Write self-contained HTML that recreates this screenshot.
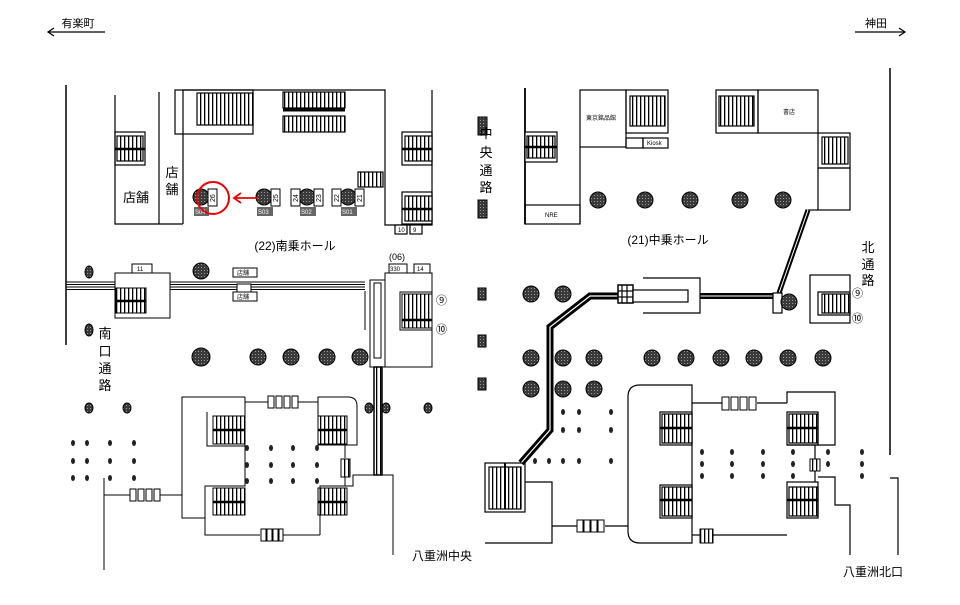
<!DOCTYPE html>
<html><head><meta charset="utf-8"><style>
html,body{margin:0;padding:0;background:#fff}
svg{display:block}
text{font-family:"Liberation Sans","Noto Sans CJK JP",sans-serif;fill:#000}
</style></head><body>
<svg width="960" height="605" viewBox="0 0 960 605" xmlns="http://www.w3.org/2000/svg">
<defs>
<pattern id="st" width="4" height="4" patternUnits="userSpaceOnUse"><rect width="4" height="4" fill="#fff"/><rect x="0" width="1.3" height="4" fill="#000"/></pattern>
<pattern id="dk" width="3" height="3" patternUnits="userSpaceOnUse"><rect width="3" height="3" fill="#3a3a3a"/><rect width="1" height="1" fill="#999"/></pattern>
</defs>
<g stroke="#000" stroke-width="1.2" fill="none">
<line x1="48" y1="32" x2="105" y2="32"/><polyline points="54,28 48,32 54,36"/>
<line x1="855" y1="32" x2="905" y2="32"/><polyline points="899,28 905,32 899,36"/>
<line x1="66" y1="85" x2="66" y2="345" stroke-width="1.5"/>
<line x1="890" y1="68" x2="890" y2="455" stroke-width="1.5"/>
<polyline points="115,95 115,224 183,224"/>
<line x1="159" y1="92" x2="159" y2="224"/>
<polyline points="183,224 183,90 385,90 385,225 432,225 432,90"/>
<rect x="175" y="90" width="78" height="44"/>
<rect x="197" y="93" width="56" height="32" fill="url(#st)"/>
<rect x="283" y="92" width="62" height="16" fill="url(#st)"/>
<rect x="283" y="116" width="62" height="16" fill="url(#st)"/>
<line x1="283" y1="110" x2="345" y2="110" stroke-width="3"/>
<rect x="358" y="172" width="25" height="15" fill="url(#st)"/>
<rect x="115" y="132" width="30" height="33"/><rect x="117" y="136" width="26" height="25" fill="url(#st)"/><line x1="115" y1="149" x2="145" y2="149" stroke-width="2.5"/>
<rect x="402" y="132" width="30" height="33"/><rect x="405" y="136" width="27" height="25" fill="url(#st)"/><line x1="402" y1="149" x2="432" y2="149" stroke-width="2.5"/>
<rect x="402" y="192" width="30" height="32"/><rect x="405" y="196" width="27" height="25" fill="url(#st)"/><line x1="402" y1="209" x2="432" y2="209" stroke-width="2.5"/>
<rect x="395" y="225" width="12" height="9" fill="#fff"/><rect x="410" y="225" width="12" height="9" fill="#fff"/>
</g>
<g fill="url(#dk)" stroke="#000">
<circle cx="201" cy="197" r="8"/><circle cx="264" cy="197" r="8"/><circle cx="307" cy="197" r="8"/><circle cx="348" cy="197" r="8"/>
</g>
<g fill="#fff" stroke="#000" stroke-width="1">
<rect x="208" y="189" width="9" height="17"/><rect x="271" y="189" width="9" height="17"/>
<rect x="291" y="189" width="9" height="17"/><rect x="314" y="189" width="9" height="17"/>
<rect x="332" y="189" width="9" height="17"/><rect x="355" y="189" width="9" height="17"/>
</g>
<g font-size="7">
<text transform="translate(215,202) rotate(-90)">26</text><text transform="translate(278,202) rotate(-90)">25</text>
<text transform="translate(298,202) rotate(-90)">24</text><text transform="translate(321,202) rotate(-90)">23</text>
<text transform="translate(339,202) rotate(-90)">22</text><text transform="translate(362,202) rotate(-90)">21</text>
</g>
<g fill="#666"><rect x="194" y="207" width="15" height="9"/><rect x="257" y="207" width="16" height="9"/><rect x="300" y="207" width="16" height="9"/><rect x="341" y="207" width="16" height="9"/></g>
<g font-size="6"><text x="195" y="214" style="fill:#fff">S04</text><text x="258" y="214" style="fill:#fff">S03</text><text x="301" y="214" style="fill:#fff">S02</text><text x="342" y="214" style="fill:#fff">S01</text></g>
<circle cx="213" cy="198" r="16" fill="none" stroke="#e00" stroke-width="2"/>
<line x1="258" y1="198" x2="236" y2="198" stroke="#e00" stroke-width="1.8"/><polyline points="241,193 234,198 241,203" fill="none" stroke="#e00" stroke-width="1.8"/>
<g font-size="6"><text x="398" y="232">10</text><text x="413" y="232">9</text></g>
<text x="136" y="202" font-size="13" text-anchor="middle">店舗</text>
<text x="172" y="177" font-size="13" text-anchor="middle">店</text><text x="172" y="194" font-size="13" text-anchor="middle">舗</text>
<text x="295" y="250" font-size="12" text-anchor="middle">(22)南乗ホール</text>

<g stroke="#000" fill="none">
<line x1="66" y1="282" x2="365" y2="282"/><line x1="66" y1="284.5" x2="365" y2="284.5"/><line x1="66" y1="287" x2="365" y2="287"/><line x1="66" y1="289.5" x2="365" y2="289.5"/>
<rect x="115" y="273" width="55" height="45" fill="#fff"/>
<rect x="116" y="288" width="30" height="25" fill="url(#st)"/><line x1="116" y1="301" x2="146" y2="301" stroke-width="2.5"/>
<rect x="132" y="264" width="20" height="9" fill="#fff"/>
<rect x="233" y="268" width="24" height="9" fill="#fff"/><rect x="233" y="292" width="24" height="9" fill="#fff"/><rect x="237" y="284" width="14" height="8" fill="#fff"/>
<rect x="370" y="280" width="15" height="87" fill="#fff"/><rect x="374" y="283" width="7" height="75"/>
<line x1="365" y1="291" x2="365" y2="330"/>
<rect x="385" y="273" width="47" height="94" fill="#fff"/>
<polyline points="432,292 400,292 400,330 432,330"/>
<rect x="402" y="294" width="30" height="34" fill="url(#st)"/><line x1="402" y1="320" x2="432" y2="320" stroke-width="2.5"/>
<rect x="389" y="264" width="18" height="9" fill="#fff"/><rect x="414" y="264" width="16" height="9" fill="#fff"/>
<rect x="374" y="367" width="8" height="108" fill="url(#st)" stroke-width="1.5"/>
<polyline points="245,397 182,397 182,518 205,518"/>
<polyline points="245,397 245,402 268,402"/><line x1="297" y1="402" x2="318" y2="402"/>
<path d="M318,397 H348 Q357,397 357,406 V445 H318 Z" fill="#fff"/>
<polyline points="245,402 245,446 207,446 207,412"/>
<rect x="213" y="416" width="32" height="28" fill="url(#st)"/><line x1="213" y1="430" x2="245" y2="430" stroke-width="2.5"/>
<rect x="318" y="416" width="29" height="28" fill="url(#st)"/><line x1="318" y1="430" x2="347" y2="430" stroke-width="2.5"/>
<polyline points="245,446 245,486 205,486 205,535 260,535"/><line x1="282" y1="535" x2="320" y2="535"/>
<rect x="213" y="488" width="32" height="27" fill="url(#st)"/><line x1="213" y1="502" x2="245" y2="502" stroke-width="2.5"/>
<rect x="318" y="488" width="29" height="27" fill="url(#st)"/><line x1="318" y1="502" x2="347" y2="502" stroke-width="2.5"/>
<polyline points="320,535 320,486 345,486 345,477"/><line x1="345" y1="445" x2="345" y2="458"/>
<polyline points="345,486 353,486 353,475 393,475 393,555"/>
<line x1="104" y1="478" x2="104" y2="570"/><line x1="104" y1="495" x2="130" y2="495"/><line x1="160" y1="495" x2="182" y2="495"/>
</g>
<g fill="#fff" stroke="#000" stroke-width="1">
<rect x="130" y="489" width="6" height="12"/><rect x="138" y="489" width="6" height="12"/><rect x="146" y="489" width="6" height="12"/><rect x="154" y="489" width="6" height="12"/>
<rect x="268" y="396" width="6" height="12"/><rect x="276" y="396" width="6" height="12"/><rect x="284" y="396" width="6" height="12"/><rect x="292" y="396" width="6" height="12"/>
<rect x="261" y="529" width="5" height="12"/><rect x="267" y="529" width="5" height="12"/><rect x="273" y="529" width="5" height="12"/><rect x="279" y="529" width="4" height="12"/>
<rect x="341" y="459" width="9" height="18" fill="url(#st)"/>
</g>
<g font-size="6"><text x="137" y="271">11</text><text x="237" y="275">店舗</text><text x="237" y="299">店舗</text><text x="390" y="271">330</text><text x="417" y="271">14</text></g>
<text x="397" y="260" font-size="9" text-anchor="middle">(06)</text>
<text x="436" y="304" font-size="11">⑨</text><text x="436" y="333" font-size="11">⑩</text>
<g font-size="13" text-anchor="middle"><text x="105" y="338">南</text><text x="105" y="356">口</text><text x="105" y="373">通</text><text x="105" y="390">路</text></g>
<text x="442" y="560" font-size="12" text-anchor="middle">八重洲中央</text>
<g fill="url(#dk)" stroke="#000">
<circle cx="201" cy="271" r="8"/><circle cx="201" cy="357" r="9"/><circle cx="258" cy="357" r="8"/><circle cx="291" cy="357" r="8"/><circle cx="327" cy="357" r="8"/><circle cx="360" cy="357" r="8"/>
<ellipse cx="89" cy="272" rx="4" ry="6"/><ellipse cx="89" cy="330" rx="4" ry="6"/><ellipse cx="89" cy="408" rx="4" ry="5"/><ellipse cx="127" cy="408" rx="4" ry="5"/>
<ellipse cx="369" cy="408" rx="4" ry="5"/><ellipse cx="386" cy="408" rx="4" ry="5"/><ellipse cx="428" cy="408" rx="4" ry="5"/>
</g>
<g fill="#222">
<ellipse cx="73" cy="443" rx="2" ry="3"/><ellipse cx="87" cy="443" rx="2" ry="3"/><ellipse cx="110" cy="443" rx="2" ry="3"/><ellipse cx="134" cy="443" rx="2" ry="3"/>
<ellipse cx="73" cy="461" rx="2" ry="3"/><ellipse cx="87" cy="461" rx="2" ry="3"/><ellipse cx="110" cy="461" rx="2" ry="3"/><ellipse cx="134" cy="461" rx="2" ry="3"/>
<ellipse cx="73" cy="478" rx="2" ry="3"/><ellipse cx="87" cy="478" rx="2" ry="3"/><ellipse cx="110" cy="478" rx="2" ry="3"/><ellipse cx="134" cy="478" rx="2" ry="3"/>
<ellipse cx="247" cy="448" rx="2" ry="3"/><ellipse cx="271" cy="448" rx="2" ry="3"/><ellipse cx="293" cy="448" rx="2" ry="3"/><ellipse cx="317" cy="448" rx="2" ry="3"/>
<ellipse cx="247" cy="465" rx="2" ry="3"/><ellipse cx="271" cy="465" rx="2" ry="3"/><ellipse cx="293" cy="465" rx="2" ry="3"/><ellipse cx="317" cy="465" rx="2" ry="3"/>
<ellipse cx="247" cy="481" rx="2" ry="3"/><ellipse cx="271" cy="481" rx="2" ry="3"/><ellipse cx="293" cy="481" rx="2" ry="3"/><ellipse cx="317" cy="481" rx="2" ry="3"/>
</g>

<g fill="url(#dk)" stroke="#000"><rect x="478" y="117" width="9" height="18"/><rect x="478" y="200" width="9" height="18"/><rect x="478" y="288" width="8" height="12"/><rect x="478" y="335" width="8" height="12"/><rect x="478" y="378" width="8" height="12"/></g>
<g font-size="13" text-anchor="middle"><text x="486" y="138">中</text><text x="486" y="157">央</text><text x="486" y="175">通</text><text x="486" y="192">路</text></g>

<g stroke="#000" fill="none" stroke-width="1.2">
<line x1="525" y1="88" x2="525" y2="224" stroke-width="1.8"/>
<rect x="525" y="132" width="32" height="30" fill="#fff"/><rect x="527" y="136" width="28" height="22" fill="url(#st)"/><line x1="525" y1="147" x2="557" y2="147" stroke-width="2.5"/>
<rect x="525" y="205" width="55" height="19"/>
<line x1="580" y1="147" x2="580" y2="224"/>
<rect x="580" y="90" width="46" height="57"/>
<rect x="626" y="90" width="42" height="43"/><rect x="630" y="96" width="35" height="30" fill="url(#st)"/>
<rect x="626" y="138" width="17" height="10"/><rect x="643" y="138" width="25" height="10"/>
<rect x="716" y="90" width="42" height="43"/><rect x="719" y="96" width="35" height="30" fill="url(#st)"/>
<rect x="758" y="90" width="60" height="43"/>
<rect x="818" y="133" width="32" height="35"/><rect x="822" y="137" width="26" height="27" fill="url(#st)"/>
<rect x="818" y="168" width="32" height="42"/>
<polyline points="818,210 808,210"/>
<polyline points="808,210 779,293" stroke-width="5"/><polyline points="808,210 779,293" stroke="#fff" stroke-width="1"/>
<polyline points="521,463 550,430 550,327 590,296 620,296" stroke-width="7"/>
<polyline points="521,463 550,430 550,327 590,296 620,296" stroke="#fff" stroke-width="1.2"/>
<polyline points="700,296 773,296" stroke-width="6"/><polyline points="700,296 773,296" stroke="#fff" stroke-width="1"/>
<rect x="618" y="285" width="15" height="18" fill="#fff" stroke-width="1.5"/><line x1="622" y1="285" x2="622" y2="303"/><line x1="627" y1="285" x2="627" y2="303"/><line x1="618" y1="291" x2="633" y2="291"/><line x1="618" y1="297" x2="633" y2="297"/>
<polyline points="643,278 700,278 700,313 643,313"/><rect x="633" y="290" width="55" height="12" fill="#fff"/>
<rect x="773" y="293" width="9" height="20" fill="#fff"/>
<rect x="810" y="275" width="40" height="48"/>
<polyline points="850,292 818,292 818,315 850,315"/><rect x="822" y="294" width="28" height="19" fill="url(#st)"/>
<rect x="485" y="463" width="40" height="49"/><rect x="489" y="467" width="32" height="42" fill="url(#st)"/><line x1="505" y1="463" x2="505" y2="509" stroke-width="2"/>
<polyline points="525,482 552,482 552,543 485,543"/>
<line x1="552" y1="526" x2="577" y2="526"/><line x1="605" y1="526" x2="628" y2="526"/>
<path d="M692,385 H640 Q628,385 628,397 V531 Q628,543 640,543 H692 Z" fill="#fff"/>
<line x1="692" y1="403" x2="722" y2="403"/><line x1="757" y1="403" x2="787" y2="403"/>
<polyline points="787,403 787,392 835,392 835,445 787,445"/>
<rect x="660" y="412" width="32" height="33"/><rect x="662" y="414" width="30" height="29" fill="url(#st)"/><line x1="660" y1="428" x2="692" y2="428" stroke-width="2.5"/>
<rect x="660" y="485" width="32" height="33"/><rect x="662" y="487" width="30" height="29" fill="url(#st)"/><line x1="660" y1="500" x2="692" y2="500" stroke-width="2.5"/>
<rect x="787" y="412" width="31" height="33"/><rect x="789" y="414" width="29" height="29" fill="url(#st)"/><line x1="787" y1="428" x2="818" y2="428" stroke-width="2.5"/>
<rect x="787" y="482" width="31" height="36"/><rect x="789" y="487" width="29" height="29" fill="url(#st)"/><line x1="787" y1="500" x2="818" y2="500" stroke-width="2.5"/>
<line x1="692" y1="535" x2="700" y2="535"/><line x1="713" y1="535" x2="787" y2="535"/>
<line x1="815" y1="445" x2="815" y2="482"/>
<polyline points="818,477 835,477 835,505 850,505 850,555"/>
<polyline points="890,478 898,478 898,555"/>
</g>
<g fill="#fff" stroke="#000" stroke-width="1">
<rect x="577" y="520" width="6" height="12"/><rect x="584" y="520" width="6" height="12"/><rect x="591" y="520" width="6" height="12"/><rect x="598" y="520" width="6" height="12"/>
<rect x="722" y="397" width="7" height="13"/><rect x="731" y="397" width="7" height="13"/><rect x="740" y="397" width="7" height="13"/><rect x="749" y="397" width="7" height="13"/>
<rect x="700" y="529" width="13" height="14" fill="url(#st)"/>
<rect x="810" y="459" width="10" height="12" fill="url(#st)"/>
</g>
<g fill="url(#dk)" stroke="#000">
<circle cx="598" cy="200" r="8"/><circle cx="645" cy="200" r="8"/><circle cx="690" cy="200" r="8"/><circle cx="740" cy="200" r="8"/><circle cx="783" cy="200" r="8"/>
<circle cx="531" cy="294" r="8"/><circle cx="563" cy="294" r="8"/><circle cx="789" cy="302" r="8"/>
<circle cx="531" cy="358" r="8"/><circle cx="563" cy="358" r="8"/><circle cx="594" cy="358" r="8"/><circle cx="652" cy="358" r="8"/><circle cx="686" cy="358" r="8"/><circle cx="721" cy="358" r="8"/><circle cx="754" cy="358" r="8"/><circle cx="788" cy="358" r="8"/><circle cx="823" cy="358" r="8"/>
<circle cx="531" cy="389" r="8"/><circle cx="563" cy="389" r="8"/><circle cx="594" cy="389" r="8"/>
</g>
<g fill="#222">
<ellipse cx="563" cy="412" rx="2" ry="3"/><ellipse cx="579" cy="412" rx="2" ry="3"/><ellipse cx="611" cy="412" rx="2" ry="3"/>
<ellipse cx="563" cy="430" rx="2" ry="3"/><ellipse cx="579" cy="430" rx="2" ry="3"/><ellipse cx="611" cy="430" rx="2" ry="3"/>
<ellipse cx="535" cy="461" rx="2" ry="3"/><ellipse cx="549" cy="461" rx="2" ry="3"/><ellipse cx="563" cy="461" rx="2" ry="3"/><ellipse cx="579" cy="461" rx="2" ry="3"/><ellipse cx="611" cy="461" rx="2" ry="3"/>
<ellipse cx="702" cy="452" rx="2" ry="3"/><ellipse cx="732" cy="452" rx="2" ry="3"/><ellipse cx="763" cy="452" rx="2" ry="3"/><ellipse cx="793" cy="452" rx="2" ry="3"/><ellipse cx="828" cy="452" rx="2" ry="3"/><ellipse cx="862" cy="452" rx="2" ry="3"/>
<ellipse cx="702" cy="464" rx="2" ry="3"/><ellipse cx="732" cy="464" rx="2" ry="3"/><ellipse cx="763" cy="464" rx="2" ry="3"/><ellipse cx="793" cy="464" rx="2" ry="3"/><ellipse cx="828" cy="464" rx="2" ry="3"/><ellipse cx="862" cy="464" rx="2" ry="3"/>
<ellipse cx="702" cy="476" rx="2" ry="3"/><ellipse cx="732" cy="476" rx="2" ry="3"/><ellipse cx="763" cy="476" rx="2" ry="3"/><ellipse cx="793" cy="476" rx="2" ry="3"/><ellipse cx="862" cy="476" rx="2" ry="3"/>
</g>
<g font-size="6"><text x="586" y="120">東京銘品館</text><text x="647" y="145">Kiosk</text><text x="783" y="114">書店</text><text x="545" y="217">NRE</text></g>
<text x="668" y="244" font-size="12" text-anchor="middle">(21)中乗ホール</text>
<g font-size="13" text-anchor="middle"><text x="868" y="252">北</text><text x="868" y="269">通</text><text x="868" y="285">路</text></g>
<text x="852" y="297" font-size="11">⑨</text><text x="852" y="322" font-size="11">⑩</text>
<text x="873" y="576" font-size="12" text-anchor="middle">八重洲北口</text>
<text x="78" y="27" font-size="11" text-anchor="middle">有楽町</text>
<text x="876" y="27" font-size="11" text-anchor="middle">神田</text>
</svg>
</body></html>
